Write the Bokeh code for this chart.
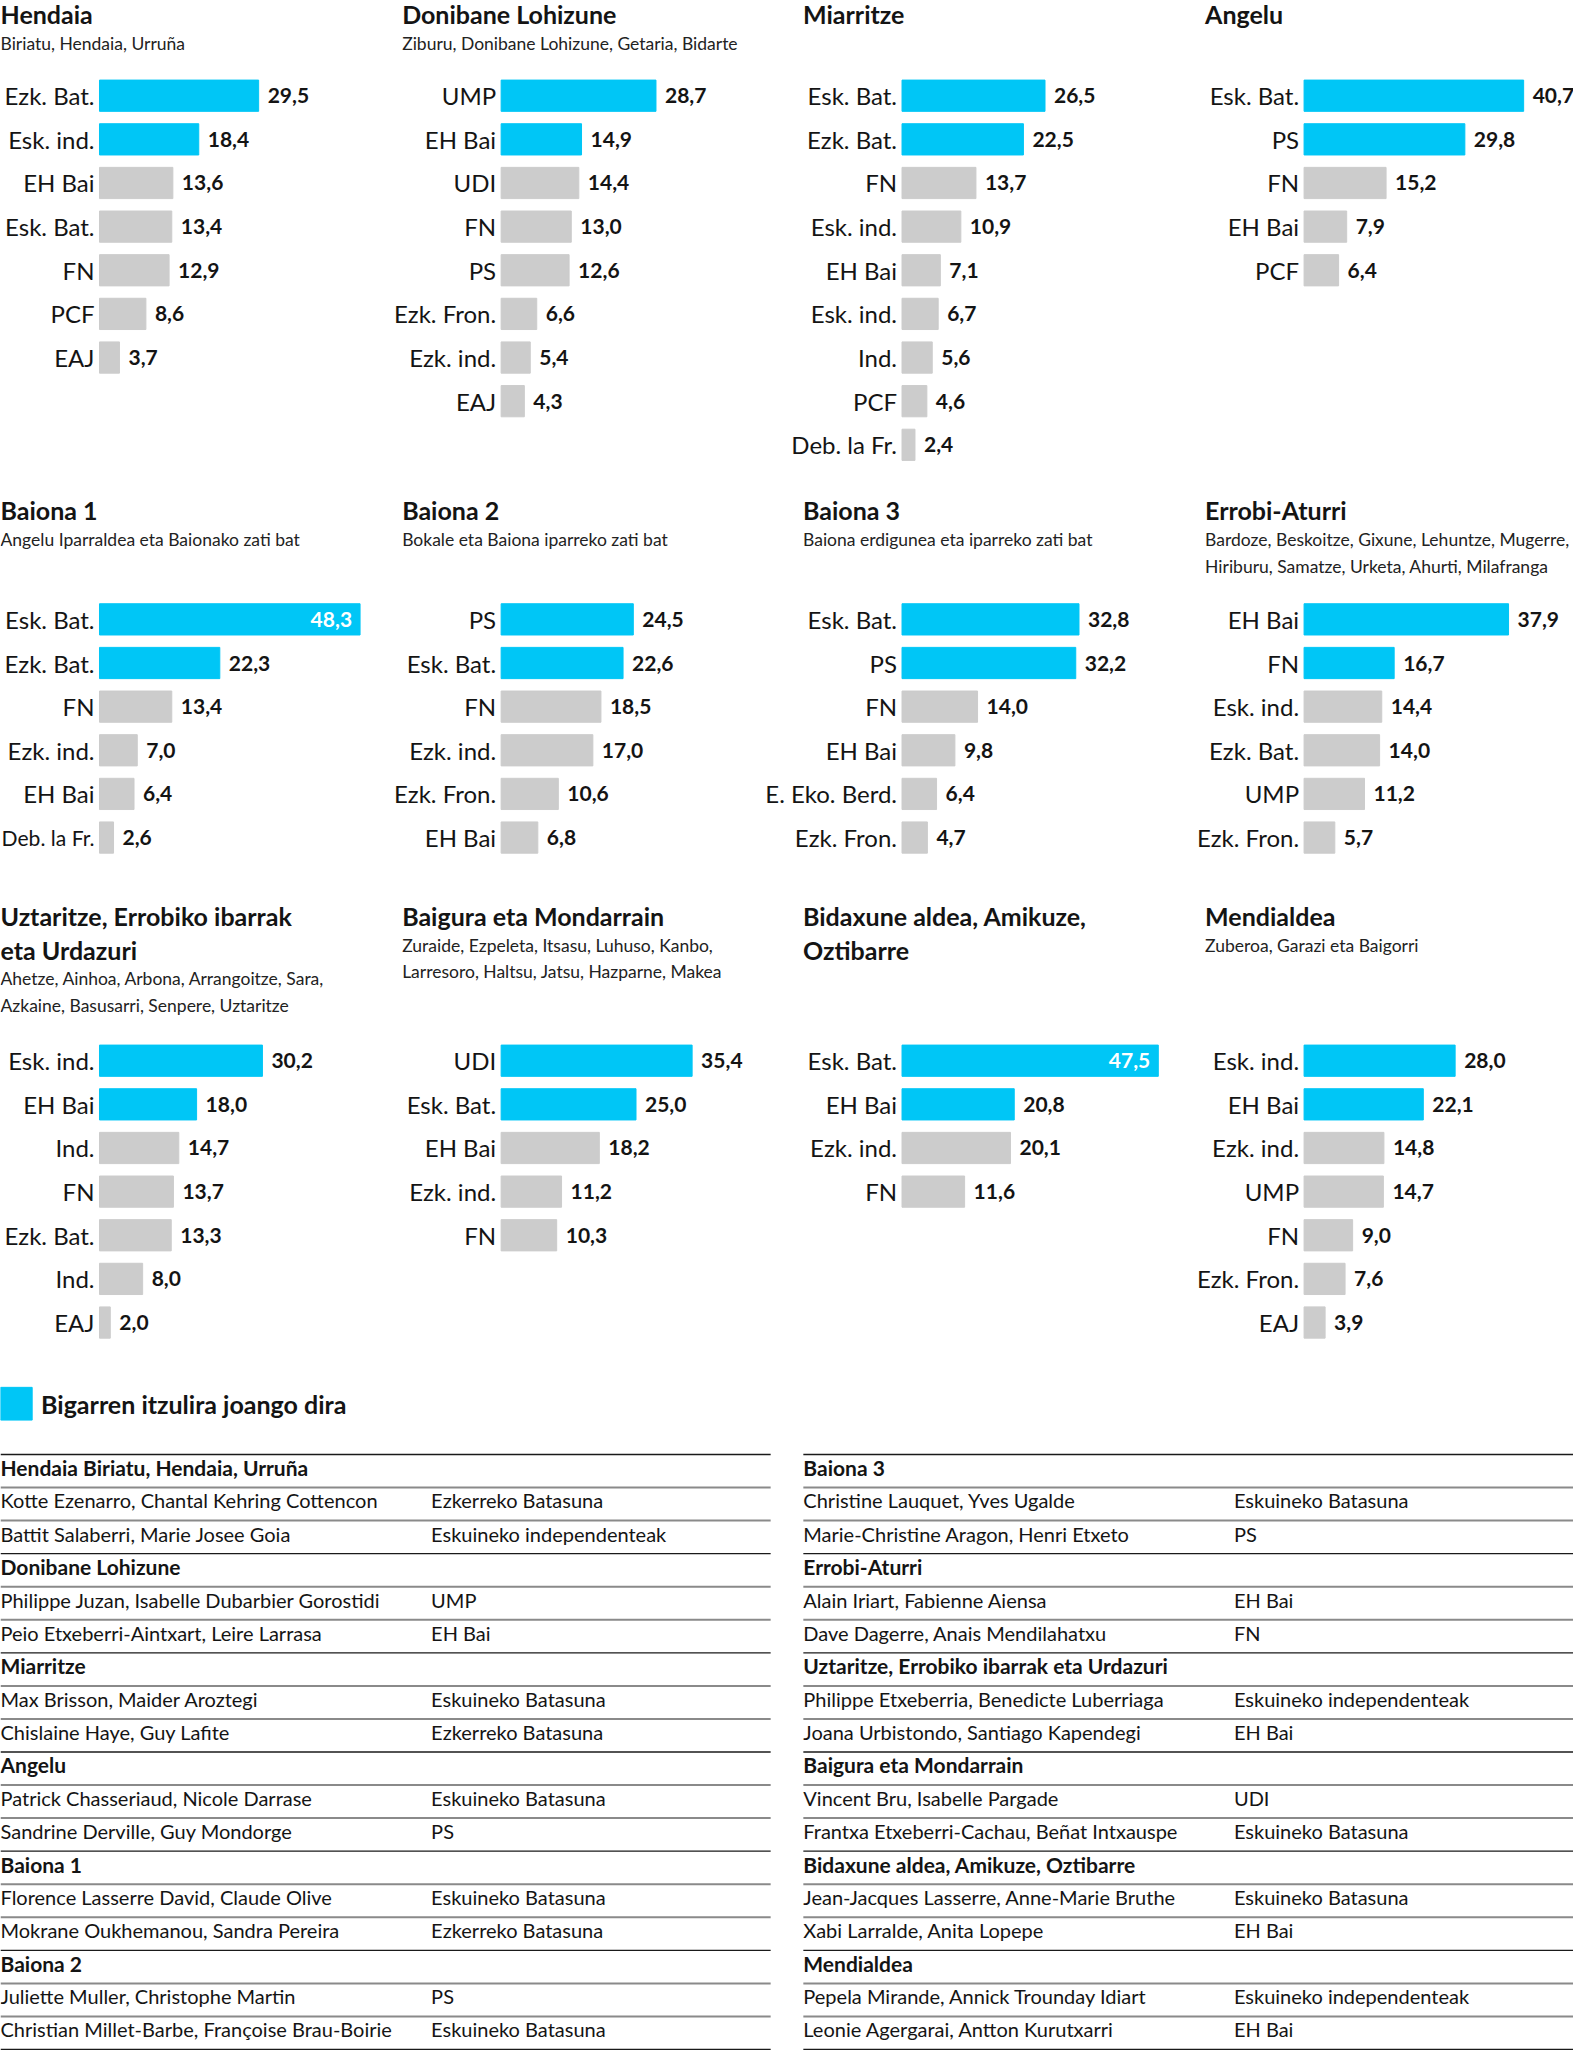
from bokeh.plotting import figure
from bokeh.layouts import row, column
from bokeh.models import Range1d, ColumnDataSource
from bokeh.embed import file_html
from bokeh.resources import INLINE
from bokeh.core.properties import value

# ---------------- data ----------------
hendaia_parties = ["Ezk. Bat.", "Esk. ind.", "EH Bai", "Esk. Bat.", "FN", "PCF", "EAJ"]
hendaia_values = [29.5, 18.4, 13.6, 13.4, 12.9, 8.6, 3.7]
donibane_parties = ["UMP", "EH Bai", "UDI", "FN", "PS", "Ezk. Fron.", "Ezk. ind.", "EAJ"]
donibane_values = [28.7, 14.9, 14.4, 13.0, 12.6, 6.6, 5.4, 4.3]
miarritze_parties = ["Esk. Bat.", "Ezk. Bat.", "FN", "Esk. ind.", "EH Bai", "Esk. ind.", "Ind.", "PCF", "Deb. la Fr."]
miarritze_values = [26.5, 22.5, 13.7, 10.9, 7.1, 6.7, 5.6, 4.6, 2.4]
angelu_parties = ["Esk. Bat.", "PS", "FN", "EH Bai", "PCF"]
angelu_values = [40.7, 29.8, 15.2, 7.9, 6.4]
baiona1_parties = ["Esk. Bat.", "Ezk. Bat.", "FN", "Ezk. ind.", "EH Bai", "Deb. la Fr."]
baiona1_values = [48.3, 22.3, 13.4, 7.0, 6.4, 2.6]
baiona2_parties = ["PS", "Esk. Bat.", "FN", "Ezk. ind.", "Ezk. Fron.", "EH Bai"]
baiona2_values = [24.5, 22.6, 18.5, 17.0, 10.6, 6.8]
baiona3_parties = ["Esk. Bat.", "PS", "FN", "EH Bai", "E. Eko. Berd.", "Ezk. Fron."]
baiona3_values = [32.8, 32.2, 14.0, 9.8, 6.4, 4.7]
errobi_parties = ["EH Bai", "FN", "Esk. ind.", "Ezk. Bat.", "UMP", "Ezk. Fron."]
errobi_values = [37.9, 16.7, 14.4, 14.0, 11.2, 5.7]
uztaritze_parties = ["Esk. ind.", "EH Bai", "Ind.", "FN", "Ezk. Bat.", "Ind.", "EAJ"]
uztaritze_values = [30.2, 18.0, 14.7, 13.7, 13.3, 8.0, 2.0]
baigura_parties = ["UDI", "Esk. Bat.", "EH Bai", "Ezk. ind.", "FN"]
baigura_values = [35.4, 25.0, 18.2, 11.2, 10.3]
bidaxune_parties = ["Esk. Bat.", "EH Bai", "Ezk. ind.", "FN"]
bidaxune_values = [47.5, 20.8, 20.1, 11.6]
mendialdea_parties = ["Esk. ind.", "EH Bai", "Ezk. ind.", "UMP", "FN", "Ezk. Fron.", "EAJ"]
mendialdea_values = [28.0, 22.1, 14.8, 14.7, 9.0, 7.6, 3.9]

hendaia_title = ["Hendaia"]
hendaia_sub = ["Biriatu, Hendaia, Urruña"]
donibane_title = ["Donibane Lohizune"]
donibane_sub = ["Ziburu, Donibane Lohizune, Getaria, Bidarte"]
miarritze_title = ["Miarritze"]
miarritze_sub = []
angelu_title = ["Angelu"]
angelu_sub = []
baiona1_title = ["Baiona 1"]
baiona1_sub = ["Angelu Iparraldea eta Baionako zati bat"]
baiona2_title = ["Baiona 2"]
baiona2_sub = ["Bokale eta Baiona iparreko zati bat"]
baiona3_title = ["Baiona 3"]
baiona3_sub = ["Baiona erdigunea eta iparreko zati bat"]
errobi_title = ["Errobi-Aturri"]
errobi_sub = ["Bardoze, Beskoitze, Gixune, Lehuntze, Mugerre,", "Hiriburu, Samatze, Urketa, Ahurti, Milafranga"]
uztaritze_title = ["Uztaritze, Errobiko ibarrak", "eta Urdazuri"]
uztaritze_sub = ["Ahetze, Ainhoa, Arbona, Arrangoitze, Sara,", "Azkaine, Basusarri, Senpere, Uztaritze"]
baigura_title = ["Baigura eta Mondarrain"]
baigura_sub = ["Zuraide, Ezpeleta, Itsasu, Luhuso, Kanbo,", "Larresoro, Haltsu, Jatsu, Hazparne, Makea"]
bidaxune_title = ["Bidaxune aldea, Amikuze,", "Oztibarre"]
bidaxune_sub = []
mendialdea_title = ["Mendialdea"]
mendialdea_sub = ["Zuberoa, Garazi eta Baigorri"]

legend_label = "Bigarren itzulira joango dira"
qualified_per_district = 2

# table: (name, party); party None -> district header
table_left = [
    ("Hendaia Biriatu, Hendaia, Urruña", None),
    ("Kotte Ezenarro, Chantal Kehring Cottencon", "Ezkerreko Batasuna"),
    ("Battit Salaberri, Marie Josee Goia", "Eskuineko independenteak"),
    ("Donibane Lohizune", None),
    ("Philippe Juzan, Isabelle Dubarbier Gorostidi", "UMP"),
    ("Peio Etxeberri-Aintxart, Leire Larrasa", "EH Bai"),
    ("Miarritze", None),
    ("Max Brisson, Maider Aroztegi", "Eskuineko Batasuna"),
    ("Chislaine Haye, Guy Lafite", "Ezkerreko Batasuna"),
    ("Angelu", None),
    ("Patrick Chasseriaud, Nicole Darrase", "Eskuineko Batasuna"),
    ("Sandrine Derville, Guy Mondorge", "PS"),
    ("Baiona 1", None),
    ("Florence Lasserre David, Claude Olive", "Eskuineko Batasuna"),
    ("Mokrane Oukhemanou, Sandra Pereira", "Ezkerreko Batasuna"),
    ("Baiona 2", None),
    ("Juliette Muller, Christophe Martin", "PS"),
    ("Christian Millet-Barbe, Françoise Brau-Boirie", "Eskuineko Batasuna"),
]
table_right = [
    ("Baiona 3", None),
    ("Christine Lauquet, Yves Ugalde", "Eskuineko Batasuna"),
    ("Marie-Christine Aragon, Henri Etxeto", "PS"),
    ("Errobi-Aturri", None),
    ("Alain Iriart, Fabienne Aiensa", "EH Bai"),
    ("Dave Dagerre, Anais Mendilahatxu", "FN"),
    ("Uztaritze, Errobiko ibarrak eta Urdazuri", None),
    ("Philippe Etxeberria, Benedicte Luberriaga", "Eskuineko independenteak"),
    ("Joana Urbistondo, Santiago Kapendegi", "EH Bai"),
    ("Baigura eta Mondarrain", None),
    ("Vincent Bru, Isabelle Pargade", "UDI"),
    ("Frantxa Etxeberri-Cachau, Beñat Intxauspe", "Eskuineko Batasuna"),
    ("Bidaxune aldea, Amikuze, Oztibarre", None),
    ("Jean-Jacques Lasserre, Anne-Marie Bruthe", "Eskuineko Batasuna"),
    ("Xabi Larralde, Anita Lopepe", "EH Bai"),
    ("Mendialdea", None),
    ("Pepela Mirande, Annick Trounday Idiart", "Eskuineko independenteak"),
    ("Leonie Agergarai, Antton Kurutxarri", "EH Bai"),
]

# (column, row, title, subtitle, parties, values)
panels = [
    (0, 0, hendaia_title, hendaia_sub, hendaia_parties, hendaia_values),
    (1, 0, donibane_title, donibane_sub, donibane_parties, donibane_values),
    (2, 0, miarritze_title, miarritze_sub, miarritze_parties, miarritze_values),
    (3, 0, angelu_title, angelu_sub, angelu_parties, angelu_values),
    (0, 1, baiona1_title, baiona1_sub, baiona1_parties, baiona1_values),
    (1, 1, baiona2_title, baiona2_sub, baiona2_parties, baiona2_values),
    (2, 1, baiona3_title, baiona3_sub, baiona3_parties, baiona3_values),
    (3, 1, errobi_title, errobi_sub, errobi_parties, errobi_values),
    (0, 2, uztaritze_title, uztaritze_sub, uztaritze_parties, uztaritze_values),
    (1, 2, baigura_title, baigura_sub, baigura_parties, baigura_values),
    (2, 2, bidaxune_title, bidaxune_sub, bidaxune_parties, bidaxune_values),
    (3, 2, mendialdea_title, mendialdea_sub, mendialdea_parties, mendialdea_values),
]

# ---------------- style / layout ----------------
CYAN = "#00C6F6"
GREY = "#CCCCCC"
INK = "#141414"
FONT = value("Lato")

SX = 1573 / 1589           # screen px per reference px (horizontal)
SY = 2050 / 2067           # screen px per reference px (vertical)
CHART_REF_H = 1380
CHART_H = round(CHART_REF_H * SY)
TABLE_H = 2050 - CHART_H
COL_BOUNDS = [0, 370, 765, 1175, 1589]
BAR_START = [100, 506, 911, 1317]
TITLE_X = [0, 406, 811, 1217]
ROW_TITLE_MID = [14, 514, 923]
ROW_FIRST_BAR = [96, 624, 1069]
TITLE_LINE = 34
SUB_FIRST = 29.5
SUB_LINE = 27
BAR_STEP = 44
BAR_H = 31.5
PX_PER_PT = 5.45
INSIDE_LIMIT = 45
LABEL_PX = 24
LABEL_GAP = 5

edges = [round(b * SX) for b in COL_BOUNDS]


def fmt(v):
    return f"{v:.1f}".replace(".", ",")


def label_size(label, room):
    est = LABEL_PX * 0.40 * len(label)
    size = LABEL_PX if est <= room else LABEL_PX * room / est
    return f"{size:.1f}px"


col_figs = []
for c in range(4):
    w = edges[c + 1] - edges[c]
    x0 = (COL_BOUNDS[c] - BAR_START[c]) / PX_PER_PT
    x1 = x0 + w / (SX * PX_PER_PT)
    p = figure(width=w, height=CHART_H, x_range=Range1d(x0, x1),
               y_range=Range1d(CHART_H / SY, 0), output_backend="svg", title=None,
               toolbar_location=None, x_axis_location=None, y_axis_location=None,
               min_border=0, outline_line_color=None, background_fill_color="white")
    p.xgrid.visible = False
    p.ygrid.visible = False
    tx = (TITLE_X[c] - BAR_START[c]) / PX_PER_PT
    room = (BAR_START[c] - COL_BOUNDS[c]) * SX - LABEL_GAP - 1

    for (pc, pr, title, sub, parties, vals) in panels:
        if pc != c:
            continue
        ty = [ROW_TITLE_MID[pr] + i * TITLE_LINE for i in range(len(title))]
        p.text(x=[tx] * len(title), y=ty, text=title, text_font=FONT,
               text_font_style="bold", text_font_size="25px", text_color=INK,
               text_baseline="middle", text_align="left")
        if sub:
            sy = [ty[-1] + SUB_FIRST + i * SUB_LINE for i in range(len(sub))]
            p.text(x=[tx] * len(sub), y=sy, text=sub, text_font=FONT,
                   text_font_size="17.5px", text_color="#222222",
                   text_baseline="middle", text_align="left")

        ys = [ROW_FIRST_BAR[pr] + i * BAR_STEP for i in range(len(vals))]
        colors = [CYAN if i < qualified_per_district else GREY for i in range(len(vals))]
        src = ColumnDataSource(dict(y=ys, v=vals, party=parties, color=colors,
                                    size=[label_size(s, room) for s in parties]))
        p.hbar(y="y", left=0, right="v", height=BAR_H, color="color", source=src)
        p.text(x=0, y="y", text="party", source=src, x_offset=-LABEL_GAP,
               text_align="right", text_baseline="middle", text_font=FONT,
               text_font_size="size", text_color=INK)
        out_i = [i for i, v in enumerate(vals) if v <= INSIDE_LIMIT]
        in_i = [i for i, v in enumerate(vals) if v > INSIDE_LIMIT]
        if out_i:
            p.text(x=[vals[i] for i in out_i], y=[ys[i] for i in out_i],
                   text=[fmt(vals[i]) for i in out_i], x_offset=9,
                   text_align="left", text_baseline="middle", text_font=FONT,
                   text_font_style="bold", text_font_size="21px", text_color=INK)
        if in_i:
            p.text(x=[vals[i] for i in in_i], y=[ys[i] for i in in_i],
                   text=[fmt(vals[i]) for i in in_i], x_offset=-8,
                   text_align="right", text_baseline="middle", text_font=FONT,
                   text_font_style="bold", text_font_size="21px", text_color="white")
    col_figs.append(p)

# ---------------- legend + table ----------------
T_TOP = CHART_REF_H
t = figure(width=1573, height=TABLE_H, x_range=Range1d(0, 1573 / SX),
           y_range=Range1d(T_TOP + TABLE_H / SY, T_TOP), output_backend="svg", title=None,
           toolbar_location=None, x_axis_location=None, y_axis_location=None,
           min_border=0, outline_line_color=None)
t.xgrid.visible = False
t.ygrid.visible = False

t.quad(left=[0], right=[32], top=[1398], bottom=[1431], color=CYAN)
t.text(x=[41], y=[1415], text=[legend_label], text_font=FONT, text_font_style="bold",
       text_font_size="25px", text_color=INK, text_baseline="middle")

LINE_TOP = 1465.7
ROW_H = 33.33
TEXT_DROP = 13
for rows, lx0, lx1, px in [(table_left, 0, 778, 435), (table_right, 811, 1589, 1246)]:
    dark_y, grey_y = [], []
    hx, hy, ht = [], [], []
    nx, ny, nt = [], [], []
    ptx, pty, ptt = [], [], []
    for i, (name, party) in enumerate(rows):
        yl = LINE_TOP + i * ROW_H
        ym = yl + TEXT_DROP
        if party is None:
            dark_y.append(yl)
            hx.append(lx0); hy.append(ym); ht.append(name)
        else:
            grey_y.append(yl)
            nx.append(lx0); ny.append(ym); nt.append(name)
            ptx.append(px); pty.append(ym); ptt.append(party)
    dark_y.append(LINE_TOP + len(rows) * ROW_H)
    t.segment(x0=[lx0] * len(grey_y), x1=[lx1] * len(grey_y), y0=grey_y, y1=grey_y,
              line_color="#8a8a8a", line_width=2)
    t.segment(x0=[lx0] * len(dark_y), x1=[lx1] * len(dark_y), y0=dark_y, y1=dark_y,
              line_color="#1a1a1a", line_width=1.3)
    t.text(x=hx, y=hy, text=ht, text_font=FONT, text_font_style="bold",
           text_font_size="21px", text_color=INK, text_baseline="middle")
    t.text(x=nx, y=ny, text=nt, text_font=FONT, text_font_size="20px",
           text_color=INK, text_baseline="middle")
    t.text(x=ptx, y=pty, text=ptt, text_font=FONT, text_font_size="20px",
           text_color=INK, text_baseline="middle")

layout = column(row(*col_figs), t)
open("out.html", "w").write(file_html(layout, INLINE))
